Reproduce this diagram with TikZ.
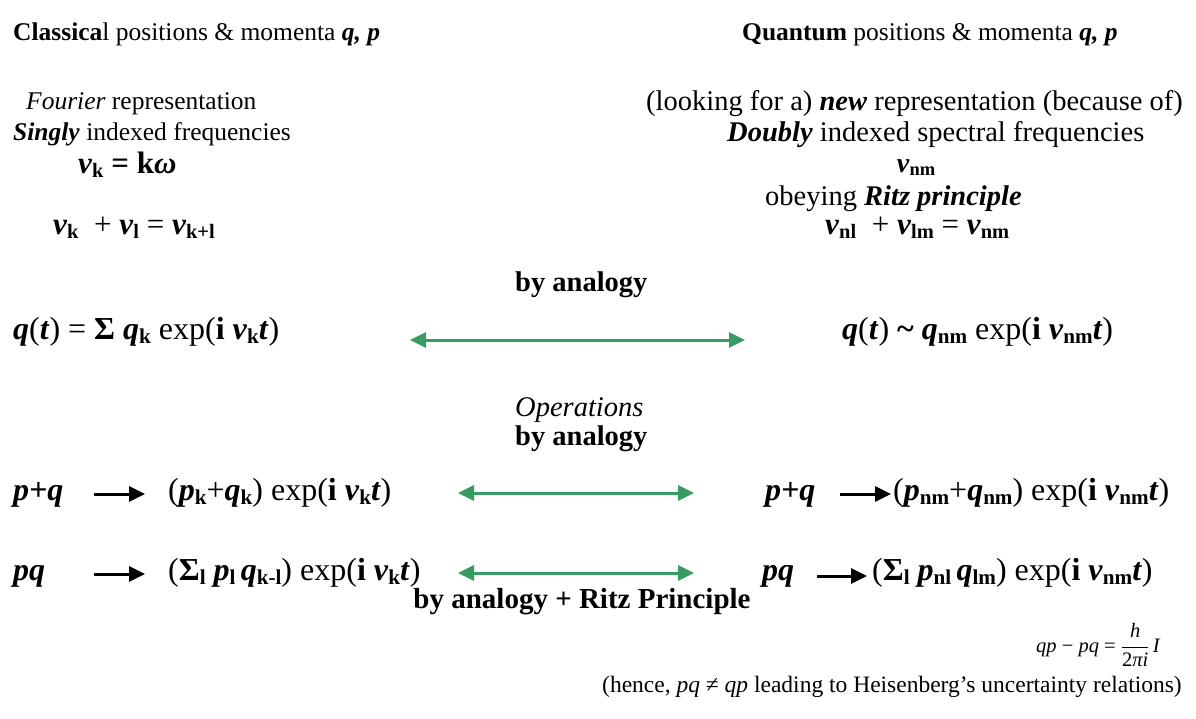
\documentclass[tikz,border=0pt]{standalone}
\usepackage{fontspec}
\setmainfont{Liberation Serif}
\usetikzlibrary{arrows.meta}
\definecolor{arrgreen}{RGB}{56,155,100}
\newcommand\bi[1]{\textbf{\textit{#1}}}
\makeatletter
\newcommand\sbs[1]{\raisebox{-0.3ex}{\fontsize{\fpeval{0.66*\f@size}}{1}\selectfont\textbf{#1}}}
\makeatother
\newcommand\nuu{\bi{ν}}
\newcommand\fs[1]{\fontsize{#1}{#1}\selectfont}
\tikzset{
  txt/.style={anchor=base west, inner sep=0pt, font=\fs{25.5}},
  ctxt/.style={anchor=base, inner sep=0pt, font=\fs{25.5}},
  garrow/.style={draw=arrgreen, line width=3pt, {Triangle[length=16pt,width=15pt]}-{Triangle[length=16pt,width=15pt]}},
  karrow/.style={draw=black, line width=3pt, -{Triangle[length=16pt,width=15pt]}},
}
\begin{document}
\begin{tikzpicture}[x=1pt,y=1pt]
\useasboundingbox (0,0) rectangle (1196,-718);
% headers
\node[txt] (clh) at (13,-40) {\textbf{Classica}l positions \& momenta \bi{q, p}};
\node[txt] (qh) at (742,-40) {\textbf{Quantum} positions \& momenta \bi{q, p}};
% representation
\node[txt] (four) at (26,-109) {\textit{Fourier} representation};
\node[txt, font=\fs{28.5}] (newr) at (646,-110) {(looking for a) \bi{new} representation (because of)};
\node[txt] (sing) at (13,-140) {\bi{Singly} indexed frequencies};
\node[txt, font=\fs{28.5}] (doub) at (727,-141) {\bi{Doubly} indexed spectral frequencies};
\node[txt, font=\fs{31}] (nuk) at (78,-173) {\nuu\sbs{k} \textbf{= k}\bi{ω}};
\node[ctxt, font=\fs{28}] (nunm) at (916,-172) {\nuu\sbs{nm}};
\node[txt, font=\fs{28.5}] (ritz) at (765,-205) {obeying \bi{Ritz principle}};
\node[txt, font=\fs{31}] (sumk) at (53,-234) {\nuu\sbs{k}\ \ + \nuu\sbs{l} = \nuu\sbs{k+l}};
\node[txt, font=\fs{31}] (sumnm) at (825,-234) {\nuu\sbs{nl}\ \ + \nuu\sbs{lm} = \nuu\sbs{nm}};
\node[txt, font=\fs{28.5}] (ana1) at (515,-291) {\textbf{by analogy}};
\node[txt, font=\fs{32}] (qcl) at (13,-339) {\bi{q}(\bi{t}) = \textbf{Σ} \bi{q}\sbs{k} exp(\textbf{i} \nuu\sbs{k}\bi{t})};
\node[txt, font=\fs{32}] (qqu) at (842,-339) {\bi{q}(\bi{t}) \textbf{\char"007E} \bi{q}\sbs{nm} exp(\textbf{i} \nuu\sbs{nm}\bi{t})};
\coordinate (g1a) at (410,-340);
\coordinate (g1b) at (745,-340);
\draw[garrow] (g1a) -- (g1b);
% operations
\node[txt, font=\fs{28.5}] (ops) at (515,-416) {\textit{Operations}};
\node[txt, font=\fs{28.5}] (ana2) at (515,-445) {\textbf{by analogy}};
\node[txt, font=\fs{32}] (pql) at (13,-500) {\bi{p+q}};
\node[txt, font=\fs{32}] (pqlr) at (168,-500) {(\bi{p}\sbs{k}+\bi{q}\sbs{k}) exp(\textbf{i} \nuu\sbs{k}\bi{t})};
\node[txt, font=\fs{32}] (pqr) at (765,-500) {\bi{p+q}};
\node[txt, font=\fs{32}] (pqrr) at (893,-500) {(\bi{p}\sbs{nm}+\bi{q}\sbs{nm}) exp(\textbf{i} \nuu\sbs{nm}\bi{t})};
\node[txt, font=\fs{32}] (ml) at (13,-580) {\bi{pq}};
\node[txt, font=\fs{32}] (mlr) at (168,-580) {(\textbf{Σ}\sbs{l} \bi{p}\sbs{l}\,\bi{q}\sbs{k-l}) exp(\textbf{i} \nuu\sbs{k}\bi{t})};
\node[txt, font=\fs{32}] (mr) at (762,-580) {\bi{pq}};
\node[txt, font=\fs{32}] (mrr) at (872,-580) {(\textbf{Σ}\sbs{l} \bi{p}\sbs{nl}\,\bi{q}\sbs{lm}) exp(\textbf{i} \nuu\sbs{nm}\bi{t})};
\node[ctxt, font=\fs{29}] (ana3) at (582,-608) {\textbf{by analogy + Ritz Principle}};
% arrows
\coordinate (k1a) at (94,-494); \coordinate (k1b) at (145,-494);
\coordinate (k2a) at (840,-494); \coordinate (k2b) at (891,-494);
\coordinate (k3a) at (94,-574); \coordinate (k3b) at (145,-574);
\coordinate (k4a) at (817,-576); \coordinate (k4b) at (867,-576);
\draw[karrow] (k1a) -- (k1b);
\draw[karrow] (k2a) -- (k2b);
\draw[karrow] (k3a) -- (k3b);
\draw[karrow] (k4a) -- (k4b);
\coordinate (g2a) at (458,-493); \coordinate (g2b) at (694,-493);
\coordinate (g3a) at (458,-573); \coordinate (g3b) at (694,-573);
\draw[garrow] (g2a) -- (g2b);
\draw[garrow] (g3a) -- (g3b);
% commutator
\node[anchor=base west, inner sep=0pt, font=\fs{20.5}] (comm) at (1036,-652)
  {\textit{qp} − \textit{pq} = $\displaystyle\frac{\mbox{\textit{h}}}{\mbox{2\textit{πi}}}$\,\textit{I}};
\node[txt, font=\fs{23.5}] (hence) at (602,-692) {(hence, \textit{pq} ≠ \textit{qp} leading to Heisenberg’s uncertainty relations)};
\end{tikzpicture}
\end{document}
